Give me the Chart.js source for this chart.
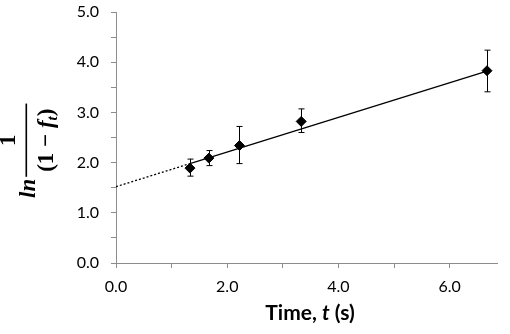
<!DOCTYPE html>
<html>
<head>
<meta charset="utf-8">
<script src="https://cdn.jsdelivr.net/npm/chart.js@4.4.0/dist/chart.umd.min.js"></script>
<style>
  html, body { margin: 0; padding: 0; background: #fff; }
  canvas { display: block; }
</style>
</head>
<body>
<canvas id="fitChart" width="510" height="334"></canvas>
<script>
const times = [1.33, 1.67, 2.22, 3.33, 6.67];
const lnValues = [1.89, 2.09, 2.34, 2.82, 3.83];
const errLow = [1.73, 1.94, 1.98, 2.60, 3.41];
const errHigh = [2.07, 2.24, 2.72, 3.07, 4.24];

// fitted line: dotted extrapolation then solid part
const fitDottedX = [0, 1.33];
const fitDottedY = [1.52, 1.98];
const fitSolidX = [1.33, 6.67];
const fitSolidY = [1.98, 3.82];

const xTicks = [0, 2, 4, 6];
const yTicks = [0, 1, 2, 3, 4, 5];

const toPoints = (xs, ys) => xs.map((x, i) => ({ x: x, y: ys[i] }));

const errorBars = {
  id: "errorBars",
  afterDatasetsDraw(chart) {
    const ctx = chart.ctx;
    const xs = chart.scales.x;
    const ys = chart.scales.y;
    ctx.save();
    ctx.strokeStyle = "#000";
    ctx.lineWidth = 1;
    times.forEach((t, i) => {
      const px = Math.round(xs.getPixelForValue(t)) + 0.5;
      const top = ys.getPixelForValue(errHigh[i]);
      const bot = ys.getPixelForValue(errLow[i]);
      ctx.beginPath();
      ctx.moveTo(px, top);
      ctx.lineTo(px, bot);
      ctx.moveTo(px - 3, top);
      ctx.lineTo(px + 3, top);
      ctx.moveTo(px - 3, bot);
      ctx.lineTo(px + 3, bot);
      ctx.stroke();
    });
    ctx.restore();
  },
};

// draws runs of text [text, font, dy] one after another
function drawRuns(ctx, runs, x, y) {
  let cx = x;
  runs.forEach((r) => {
    ctx.font = r[1];
    ctx.fillText(r[0], cx, y + (r[2] || 0));
    cx += ctx.measureText(r[0]).width;
  });
  return cx - x;
}

function runsWidth(ctx, runs) {
  let w = 0;
  runs.forEach((r) => {
    ctx.font = r[1];
    w += ctx.measureText(r[0]).width;
  });
  return w;
}

const axisTitles = {
  id: "axisTitles",
  afterDraw(chart) {
    const ctx = chart.ctx;
    ctx.save();
    ctx.fillStyle = "#000";
    ctx.textBaseline = "alphabetic";
    ctx.textAlign = "left";

    // x title
    const xRuns = [
      ["Time, ", "bold 21px Lato"],
      ["t", "bold italic 21px Lato"],
      [" (s)", "bold 21px Lato"],
    ];
    const xw = runsWidth(ctx, xRuns);
    drawRuns(ctx, xRuns, 310 - xw / 2, 320);

    // y title: ln 1/(1 - f_t), rotated
    const up = "bold 23px 'Liberation Serif'";
    const it = "bold italic 23px 'Liberation Serif'";
    const sub = "bold italic 15px 'Liberation Serif'";
    ctx.translate(35, 198);
    ctx.rotate(-Math.PI / 2);
    const lnW = drawRuns(ctx, [["ln", it]], 0, 0);
    const den = [
      ["(1 \u2212 ", up],
      ["f", it],
      ["t", sub, 4],
      [")", up],
    ];
    const denW = runsWidth(ctx, den);
    const barStart = lnW + 2;
    const barLen = denW + 10;
    const mid = barStart + barLen / 2;
    ctx.fillRect(barStart, -9.5, barLen, 1.6);
    const numW = runsWidth(ctx, [["1", up]]);
    drawRuns(ctx, [["1", up]], mid - numW / 2, -20);
    drawRuns(ctx, den, mid - denW / 2, 18);
    ctx.restore();
  },
};

const tickFont = { family: "Lato", size: 16 };
const axisGray = "#8c8c8c";

new Chart(document.getElementById("fitChart"), {
  type: "scatter",
  data: {
    datasets: [
      {
        label: "data",
        data: toPoints(times, lnValues),
        pointStyle: "rectRot",
        pointRadius: 5,
        backgroundColor: "#000",
        borderColor: "#000",
        showLine: false,
      },
      {
        label: "fit",
        data: toPoints(fitSolidX, fitSolidY),
        showLine: true,
        pointRadius: 0,
        borderColor: "#000",
        borderWidth: 1.3,
      },
      {
        label: "extrapolation",
        data: toPoints(fitDottedX, fitDottedY),
        showLine: true,
        pointRadius: 0,
        borderColor: "#000",
        borderWidth: 1.3,
        borderDash: [2, 2],
      },
    ],
  },
  options: {
    responsive: false,
    animation: false,
    devicePixelRatio: 1,
    layout: { padding: { top: 12, right: 13, left: 0, bottom: 0 } },
    plugins: { legend: { display: false }, tooltip: { enabled: false } },
    scales: {
      x: {
        type: "linear",
        min: 0,
        max: 6.85,
        afterFit: (s) => {
          s.height = 71;
          s.paddingLeft = 0;
          s.paddingRight = 0;
        },
        border: { color: axisGray, width: 1 },
        grid: { drawOnChartArea: false, drawTicks: true, tickLength: 5, color: axisGray },
        ticks: {
          stepSize: 1,
          includeBounds: false,
          autoSkip: false,
          maxRotation: 0,
          padding: 9,
          color: "#000",
          font: tickFont,
          callback: (v) => (xTicks.includes(v) ? v.toFixed(1) : ""),
        },
      },
      y: {
        type: "linear",
        min: 0,
        max: 5,
        afterFit: (s) => {
          s.width = 116;
          s.paddingTop = 0;
          s.paddingBottom = 0;
        },
        border: { color: axisGray, width: 1 },
        grid: { drawOnChartArea: false, drawTicks: true, tickLength: 5, color: axisGray },
        ticks: {
          stepSize: 0.5,
          autoSkip: false,
          padding: 12,
          color: "#000",
          font: tickFont,
          callback: (v) => (yTicks.includes(v) ? v.toFixed(1) : ""),
        },
      },
    },
  },
  plugins: [errorBars, axisTitles],
});
</script>
</body>
</html>
